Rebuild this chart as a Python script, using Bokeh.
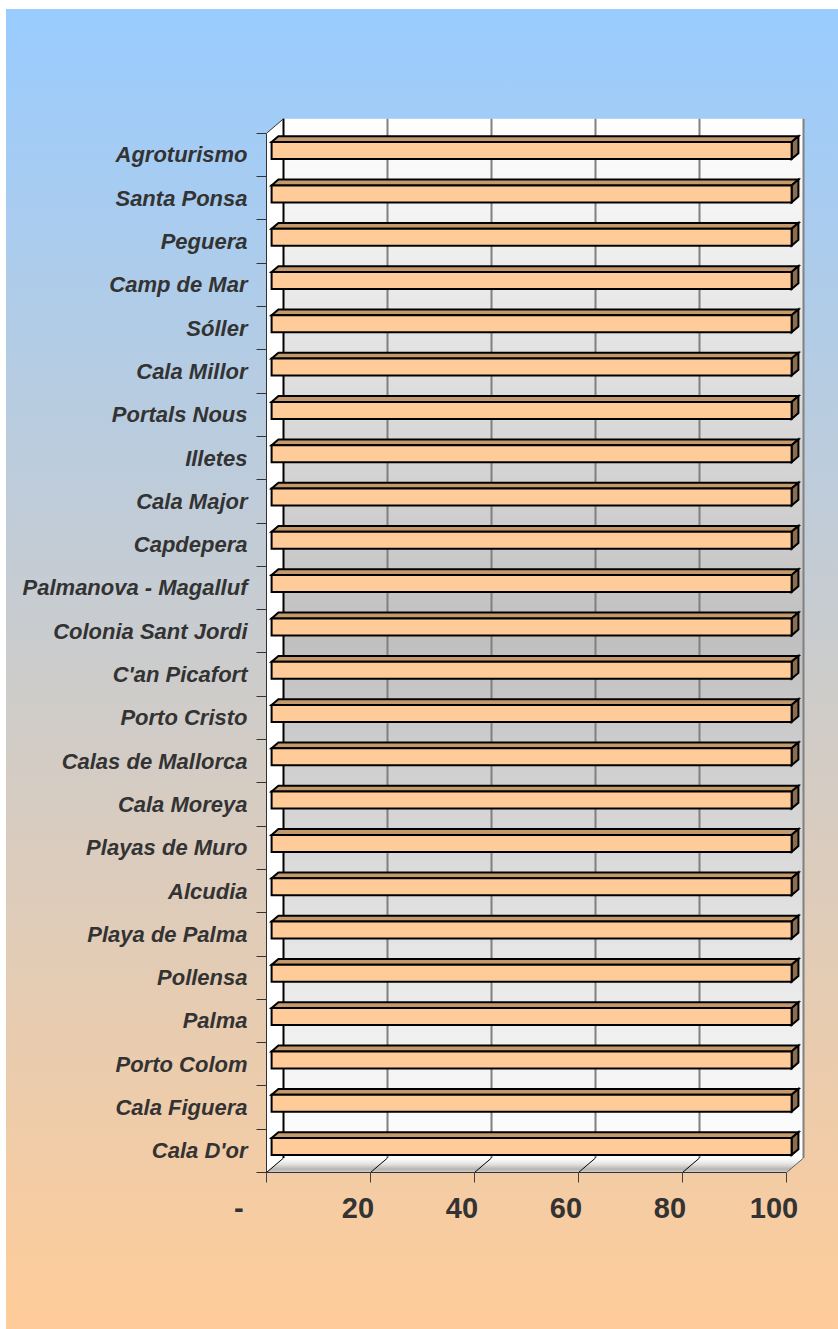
import numpy as np
from bokeh.plotting import figure
from bokeh.models import Range1d, FixedTicker, LinearAxis
from bokeh.embed import file_html
from bokeh.resources import INLINE

# ---- data (top to bottom as shown) ----
categories = ["Agroturismo", "Santa Ponsa", "Peguera", "Camp de Mar", "Sóller",
              "Cala Millor", "Portals Nous", "Illetes", "Cala Major", "Capdepera",
              "Palmanova - Magalluf", "Colonia Sant Jordi", "C'an Picafort",
              "Porto Cristo", "Calas de Mallorca", "Cala Moreya", "Playas de Muro",
              "Alcudia", "Playa de Palma", "Pollensa", "Palma", "Porto Colom",
              "Cala Figuera", "Cala D'or"]
values = [100, 100, 100, 100, 100, 100, 100, 100, 100, 100, 100, 100,
          100, 100, 100, 100, 100, 100, 100, 100, 100, 100, 100, 100]
x_ticks = [0, 20, 40, 60, 80, 100]
x_tick_labels = ["-", "20", "40", "60", "80", "100"]

# ---- geometry ----
W, H = 838, 1329
BL, BR, BT, BB = 266, 32, 116, 157
SX, SY = 5.2, 43.3
fw, fh = W - BL - BR, H - BT - BB
DX, DY = 17 / SX, 14.5 / SY
n = len(categories)
y0 = -0.5
yc = np.array([n - 1 - i for i in range(n)], dtype=float)
vals = np.array(values, dtype=float)
xmax = x_ticks[-1]

p = figure(width=W, height=H, output_backend="svg", toolbar_location=None,
           x_range=Range1d(0, fw / SX), y_range=Range1d(y0, y0 + fh / SY),
           min_border_left=BL, min_border_right=BR, min_border_top=BT,
           min_border_bottom=BB, x_axis_type=None, y_axis_type=None)
p.background_fill_color = None
p.border_fill_color = None
p.outline_line_color = None
p.styles = {"background": "linear-gradient(180deg, #99CCFF 0%, #FFCC99 100%) 6px 9px / 832px 1320px no-repeat #FFFFFF"}

top_y = y0 + n
# left wall
p.patch([0, DX, DX, 0], [y0, y0 + DY, top_y + DY, top_y], fill_color="white", line_color=None)
# back wall gradient
N = 256
t = np.linspace(0, 1, N)
g = (192 + 63 * np.abs(t - 0.5) * 2).astype(np.uint32)
img = np.zeros((N, 1), dtype=np.uint32)
img[:, 0] = (255 << 24) | (g << 16) | (g << 8) | g
p.image_rgba(image=[img], x=DX, y=y0 + DY, dw=xmax, dh=n)

# floor strips
stops_t = [0.0, 0.25, 0.6, 1.0]
stops_g = [216, 180, 230, 255]
ns = 14
fxs, fys, fcols = [], [], []
for k in range(ns):
    a, b = k / ns, (k + 1) / ns
    ya, yb = y0 + a * DY, y0 + b * DY
    fxs.append([a * DX, xmax + a * DX, xmax + b * DX, b * DX])
    fys.append([ya, ya, yb, yb])
    gv = int(np.interp((a + b) / 2, stops_t, stops_g))
    fcols.append("#%02x%02x%02x" % (gv, gv, gv))
p.patches(fxs, fys, fill_color=fcols, line_color=fcols, line_width=0.6)

# back wall gridlines
gx = [v + DX for v in x_ticks[1:-1]]
p.segment(x0=gx, y0=[y0 + DY] * len(gx), x1=gx, y1=[top_y + DY] * len(gx),
          line_color="#808080", line_width=2)
p.segment(x0=[DX], y0=[y0 + DY], x1=[DX], y1=[top_y + DY], line_color="black", line_width=2)
p.segment(x0=[xmax + DX], y0=[y0 + DY], x1=[xmax + DX], y1=[top_y + DY],
          line_color="#808080", line_width=2)
# floor diagonals
p.segment(x0=x_ticks[:-1], y0=[y0] * 5, x1=[v + DX for v in x_ticks[:-1]], y1=[y0 + DY] * 5,
          line_color="black", line_width=1)
p.segment(x0=[xmax], y0=[y0], x1=[xmax + DX], y1=[y0 + DY],
          line_color="#606060", line_width=1)
# top-left diagonal
p.segment(x0=[0], y0=[top_y], x1=[DX], y1=[top_y + DY], line_color="#333333", line_width=1)

# bars (3D)
f1, f2 = 0.3, 0.7
h = 17 / SY
b1 = yc - h / 2 + f1 * DY
t1 = yc + h / 2 + f1 * DY
ddx, ddy = (f2 - f1) * DX, (f2 - f1) * DY
txs = [[f1 * DX, v + f1 * DX, v + f2 * DX, f2 * DX] for v in vals]
tys = [[tt, tt, tt + ddy, tt + ddy] for tt in t1]
rxs = [[v + f1 * DX, v + f2 * DX, v + f2 * DX, v + f1 * DX] for v in vals]
rys = [[bb, bb + ddy, tt + ddy, tt] for bb, tt in zip(b1, t1)]
p.patches(txs, tys, fill_color="#C49A6C", line_color="black", line_width=2, line_join="miter")
p.patches(rxs, rys, fill_color="#8C6D4F", line_color="black", line_width=2, line_join="miter")
p.quad(left=f1 * DX, right=vals + f1 * DX, bottom=b1, top=t1,
       fill_color="#FFCC99", line_color="black", line_width=2, line_join="miter")

# y axis (categories): labels at band centres, tick marks between bands
yax = LinearAxis(ticker=FixedTicker(ticks=[int(v) for v in yc],
                                    minor_ticks=[y0 + k for k in range(n + 1)]),
                 major_label_overrides={int(v): c for v, c in zip(yc, categories)},
                 bounds=(y0, top_y))
yax.major_tick_out = 0
yax.major_tick_in = 0
yax.major_tick_line_color = None
yax.minor_tick_out = 10
yax.minor_tick_in = 0
yax.minor_tick_line_color = "#333333"
yax.axis_line_color = "#333333"
yax.major_label_standoff = 9
yax.major_label_text_font = "Liberation Sans"
yax.major_label_text_font_style = "bold italic"
yax.major_label_text_font_size = "22px"
yax.major_label_text_color = "#333333"
p.add_layout(yax, "left")

# x axis: labels drawn left of their tick marks, as in the original
SH = 12.5 / SX
p.extra_x_ranges = {"lbl": Range1d(SH, fw / SX + SH)}
dash_pos = SH + 0.1
lbl_pos = [dash_pos] + x_ticks[1:]
lbl_txt = [x_tick_labels[0] + "\u00a0" * 7] + x_tick_labels[1:]
xax = LinearAxis(x_range_name="lbl",
                 ticker=FixedTicker(ticks=lbl_pos, minor_ticks=[v + SH for v in x_ticks]),
                 major_label_overrides={v: s for v, s in zip(lbl_pos, lbl_txt)},
                 bounds=(SH, xmax + SH))
xax.axis_line_color = "#333333"
xax.major_tick_line_color = None
xax.major_tick_out = 0
xax.major_tick_in = 0
xax.minor_tick_line_color = "#404040"
xax.minor_tick_out = 10
xax.minor_tick_in = 0
xax.major_label_standoff = 9
xax.major_label_text_font = "Liberation Sans"
xax.major_label_text_font_style = "bold"
xax.major_label_text_font_size = "29px"
xax.major_label_text_color = "#333333"
p.add_layout(xax, "below")

open("out.html", "w").write(file_html(p, INLINE))
